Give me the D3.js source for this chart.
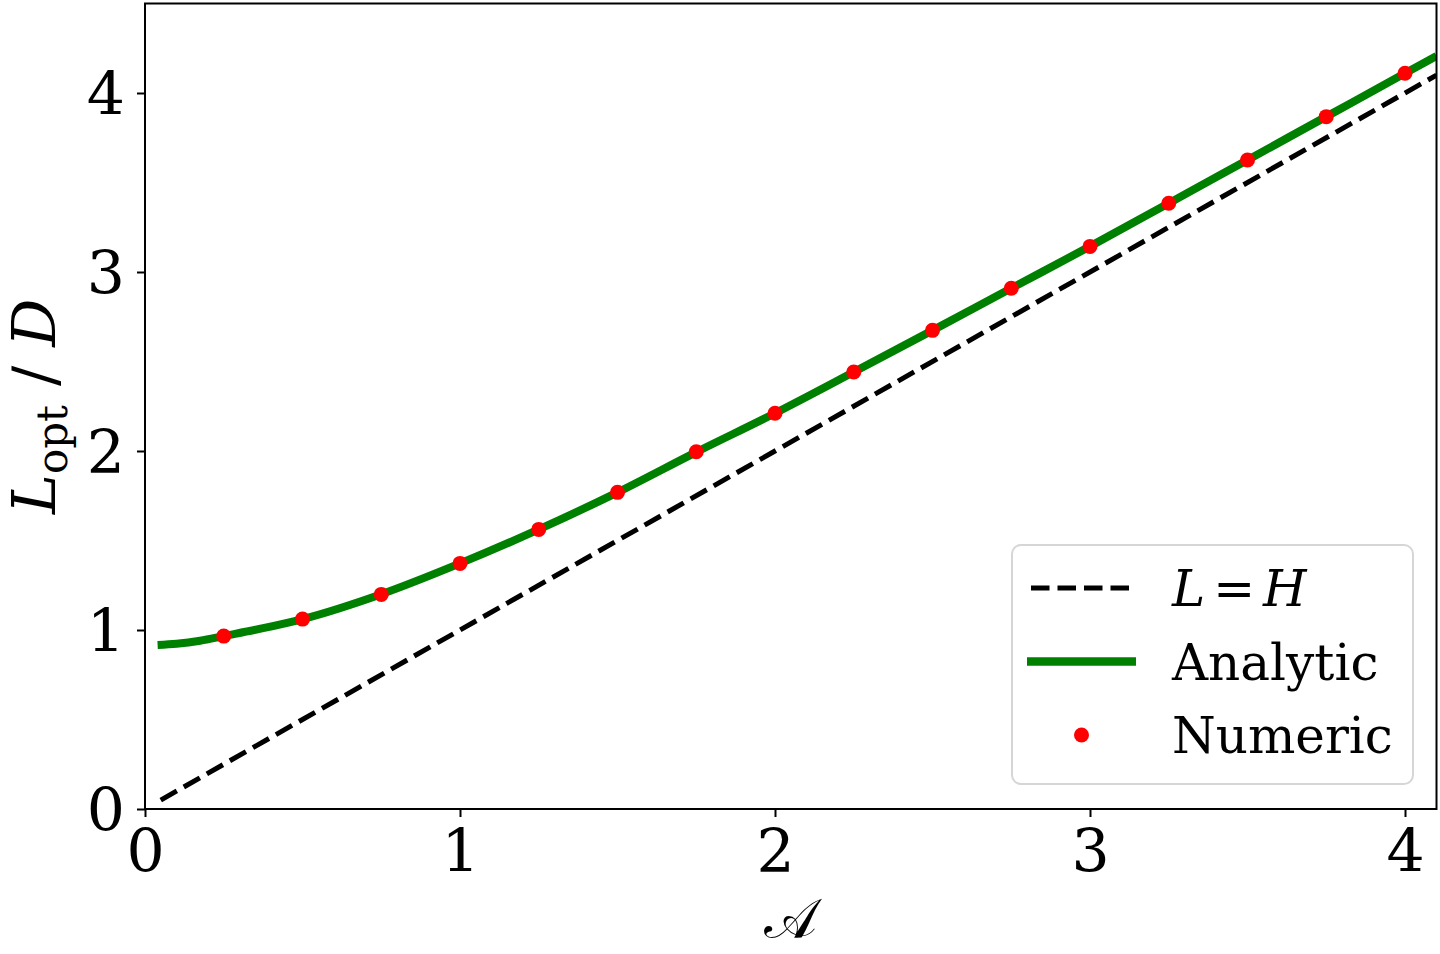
<!DOCTYPE html>
<html>
<head>
<meta charset="utf-8">
<script src="https://cdn.jsdelivr.net/npm/d3@7"></script>
<style>
  body { margin: 0; background: #fff; }
  text { font-family: "DejaVu Serif", serif; fill: #000; }
</style>
</head>
<body>
<div id="chart"></div>
<script>
// values
var X_TICKS = [0, 1, 2, 3, 4];
var Y_TICKS = [0, 1, 2, 3, 4];

// L = H reference line (two ends)
var LH_X = [0.05, 4.1];
var LH_Y = [0.05, 4.1];

// analytic curve
var AN_X = [0.04, 0.1, 0.175, 0.25, 0.375, 0.5, 0.75, 1.0, 1.25, 1.5, 1.75, 2.0,
            2.25, 2.5, 2.75, 3.0, 3.25, 3.5, 3.75, 4.0, 4.1];
var AN_Y = [0.916, 0.923, 0.940, 0.966, 1.010, 1.061, 1.200, 1.372, 1.562, 1.769, 1.994, 2.211,
            2.441, 2.674, 2.909, 3.143, 3.384, 3.626, 3.868, 4.110, 4.207];

// numeric points
var NUM_X = [0.25, 0.5, 0.75, 1.0, 1.25, 1.5, 1.75, 2.0, 2.25, 2.5, 2.75, 3.0, 3.25, 3.5, 3.75, 4.0];
var NUM_Y = [0.966, 1.061, 1.199, 1.372, 1.562, 1.769, 1.996, 2.211, 2.441, 2.674, 2.909, 3.143,
             3.384, 3.626, 3.868, 4.110];

var LEGEND = ['L = H', 'Analytic', 'Numeric'];

var WIDTH = 1440, HEIGHT = 954;
var margin = { top: 3.5, left: 145, bottom: 145, right: 3.5 };
var W = WIDTH - margin.left - margin.right;
var H = HEIGHT - margin.top - margin.bottom;

var sx = d3.scaleLinear().domain([0, 4.1]).range([0, W]);
var sy = d3.scaleLinear().domain([0, 4.5]).range([H, 0]);

var svg = d3.select('#chart').append('svg')
    .attr('width', WIDTH)
    .attr('height', HEIGHT);

svg.append('defs').append('clipPath')
    .attr('id', 'clip')
  .append('rect')
    .attr('width', W)
    .attr('height', H);

var g = svg.append('g')
    .attr('transform', 'translate(' + margin.left + ',' + margin.top + ')');

var plot = g.append('g').attr('clip-path', 'url(#clip)');

function pts(xs, ys) {
    return xs.map(function(x, i) { return [x, ys[i]]; });
}

var line = d3.line()
    .x(function(d) { return sx(d[0]); })
    .y(function(d) { return sy(d[1]); });

plot.append('path')
    .datum(pts(LH_X, LH_Y))
    .attr('d', line)
    .attr('fill', 'none')
    .attr('stroke', '#000')
    .attr('stroke-width', 5)
    .attr('stroke-dasharray', '18.5,8');

plot.append('path')
    .datum(pts(AN_X, AN_Y))
    .attr('d', line.curve(d3.curveMonotoneX))
    .attr('fill', 'none')
    .attr('stroke', '#008000')
    .attr('stroke-width', 8);

plot.selectAll('.dot').data(pts(NUM_X, NUM_Y)).enter()
  .append('circle')
    .attr('class', 'dot')
    .attr('cx', function(d) { return sx(d[0]); })
    .attr('cy', function(d) { return sy(d[1]); })
    .attr('r', 7.5)
    .attr('fill', '#ff0000');

// axes
var ax = d3.axisBottom(sx).tickValues(X_TICKS).tickSize(8).tickPadding(12).tickFormat(d3.format('d'));
var ay = d3.axisLeft(sy).tickValues(Y_TICKS).tickSize(8).tickPadding(12).tickFormat(d3.format('d'));

var gx = g.append('g')
    .attr('transform', 'translate(0,' + H + ')')
    .call(ax);
var gy = g.append('g').call(ay);

[gx, gy].forEach(function(a) {
    a.select('.domain').remove();
    a.selectAll('.tick line').attr('stroke', '#000').attr('stroke-width', 2);
    a.selectAll('.tick text')
        .attr('fill', '#000')
        .style('font-family', '"DejaVu Serif", serif')
        .style('font-size', '60px');
});
gy.selectAll('.tick text').attr('dy', '0.36em');

g.append('rect')
    .attr('width', W)
    .attr('height', H)
    .attr('fill', 'none')
    .attr('stroke', '#000')
    .attr('stroke-width', 2);

// axis labels
svg.append('text')
    .attr('x', margin.left + W / 2)
    .attr('y', 938)
    .attr('text-anchor', 'middle')
    .style('font-size', '56px')
    .text('\uD835\uDC9C');

var yl = svg.append('text')
    .attr('transform', 'translate(55,' + (margin.top + H / 2) + ') rotate(-90)')
    .attr('text-anchor', 'middle')
    .style('font-size', '60px');
yl.append('tspan').style('font-style', 'italic').text('L');
yl.append('tspan').attr('dy', 12).style('font-size', '42px').text('opt');
yl.append('tspan').attr('dy', -12).text(' / ');
yl.append('tspan').style('font-style', 'italic').text('D');

// legend
var lg = svg.append('g').attr('transform', 'translate(1012,545)');
lg.append('rect')
    .attr('width', 401)
    .attr('height', 239)
    .attr('rx', 9)
    .attr('fill', 'rgba(255,255,255,0.8)')
    .attr('stroke', '#d6d6d6')
    .attr('stroke-width', 2);

var rowY = function(i) { return 43 + i * 73.5; };

lg.append('line')
    .attr('x1', 19).attr('x2', 117.5)
    .attr('y1', rowY(0)).attr('y2', rowY(0))
    .attr('stroke', '#000')
    .attr('stroke-width', 5)
    .attr('stroke-dasharray', '18.5,8');
lg.append('line')
    .attr('x1', 15).attr('x2', 124)
    .attr('y1', rowY(1)).attr('y2', rowY(1))
    .attr('stroke', '#008000')
    .attr('stroke-width', 8.5);
lg.append('circle')
    .attr('cx', 69.5).attr('cy', rowY(2))
    .attr('r', 7.5)
    .attr('fill', '#ff0000');

var t0 = lg.append('text')
    .attr('x', 160).attr('y', rowY(0)).attr('dy', '0.36em')
    .style('font-size', '50px');
t0.append('tspan').style('font-style', 'italic').text('L');
t0.append('tspan').attr('dx', 8).text('=');
t0.append('tspan').attr('dx', 8).style('font-style', 'italic').text('H');

lg.selectAll('.lt').data(LEGEND.slice(1)).enter()
  .append('text')
    .attr('class', 'lt')
    .attr('x', 160)
    .attr('y', function(d, i) { return rowY(i + 1); })
    .attr('dy', '0.36em')
    .style('font-size', '50px')
    .text(function(d) { return d; });
</script>
</body>
</html>
